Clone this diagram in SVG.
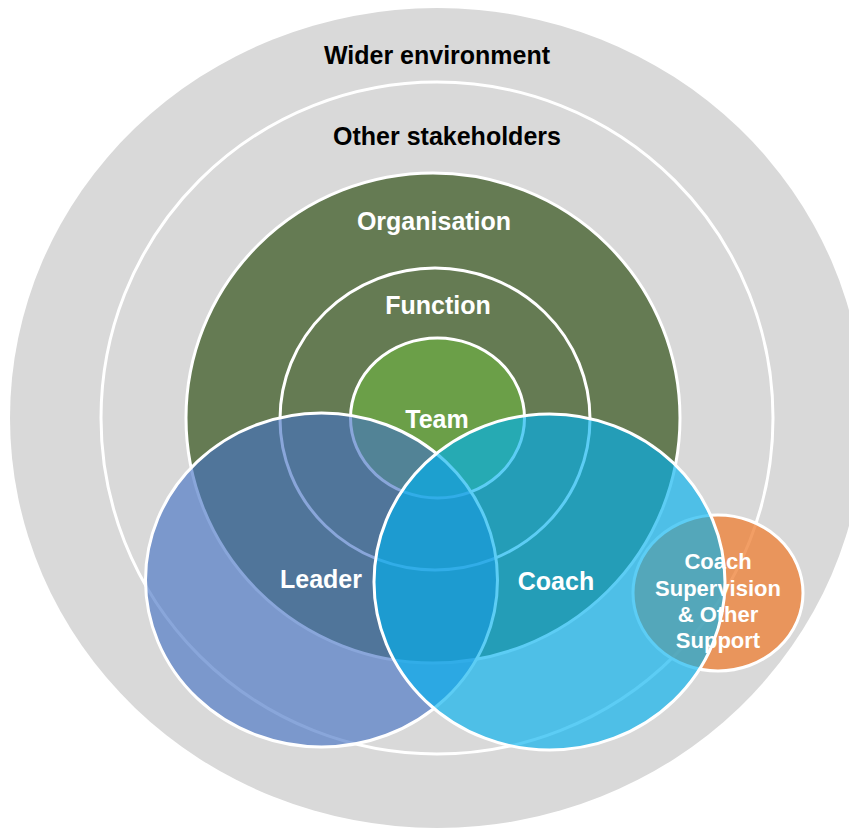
<svg xmlns="http://www.w3.org/2000/svg" width="849" height="831" viewBox="0 0 849 831">
  <style>
    .ring { stroke: #ffffff; stroke-width: 3; }
    .lbl { font-family: "Liberation Sans", Arial, sans-serif; font-weight: bold; text-anchor: middle; }
    .dark { fill: #000000; font-size: 25px; }
    .light { fill: #ffffff; font-size: 25px; }
    .small { fill: #ffffff; font-size: 22px; }
  </style>
  <rect width="849" height="831" fill="#ffffff"/>

  <!-- outermost context -->
  <g id="wider-environment">
    <ellipse cx="437" cy="418" rx="427" ry="410" fill="#d9d9d9"/>
    <text class="lbl dark" x="437" y="64">Wider environment</text>
  </g>

  <g id="other-stakeholders">
    <circle class="ring" cx="437" cy="418" r="336" fill="#d9d9d9"/>
    <text class="lbl dark" x="447" y="145">Other stakeholders</text>
  </g>

  <g id="organisation">
    <ellipse class="ring" cx="433" cy="418" rx="247" ry="245" fill="#657b53"/>
    <text class="lbl light" x="434" y="230">Organisation</text>
  </g>

  <g id="function">
    <ellipse class="ring" cx="435" cy="419" rx="155" ry="151" fill="#657b53"/>
    <text class="lbl light" x="438" y="314">Function</text>
  </g>

  <g id="team">
    <ellipse class="ring" cx="437.5" cy="418" rx="87" ry="80" fill="#6b9f48"/>
    <text class="lbl light" x="437" y="428">Team</text>
  </g>

  <!-- support circle sits beneath the coach circle -->
  <g id="coach-supervision">
    <ellipse class="ring" cx="718" cy="593" rx="85" ry="78" fill="#ed7d31" fill-opacity="0.75"/>
  </g>

  <g id="leader">
    <ellipse class="ring" cx="321.5" cy="580" rx="176" ry="167" fill="#4472c4" fill-opacity="0.63"/>
    <text class="lbl light" x="321" y="588">Leader</text>
  </g>

  <g id="coach">
    <ellipse class="ring" cx="549.5" cy="582" rx="175.5" ry="168" fill="#00b0f0" fill-opacity="0.64"/>
    <text class="lbl light" x="556" y="590">Coach</text>
  </g>

  <g id="coach-supervision-label">
    <text class="lbl small" x="718" y="569">Coach</text>
    <text class="lbl small" x="718" y="596">Supervision</text>
    <text class="lbl small" x="718" y="622">&amp; Other</text>
    <text class="lbl small" x="718" y="648">Support</text>
  </g>

  <g id="connectors"/>
</svg>
